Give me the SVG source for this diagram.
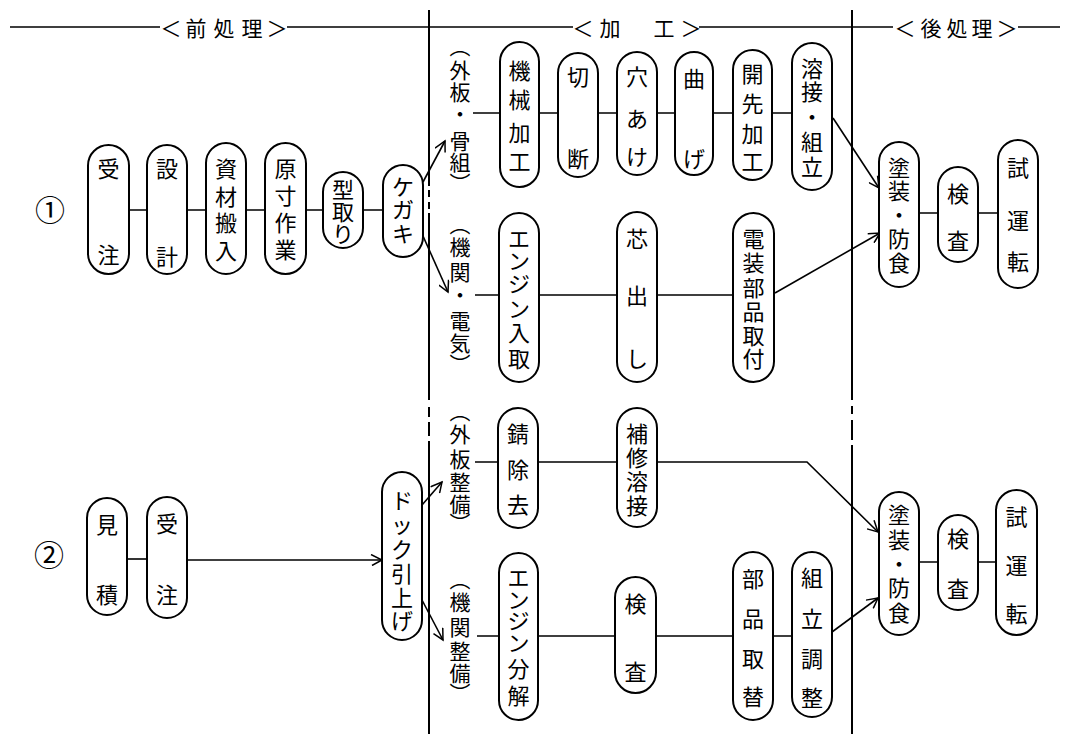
<svg xmlns="http://www.w3.org/2000/svg" width="1071" height="734" viewBox="0 0 1071 734">
<style>
.bg{fill:#fff}
.box{fill:#fff;stroke:#000;stroke-width:2}
.ln{fill:none;stroke:#000;stroke-width:1.6}
.dv{fill:none;stroke:#000;stroke-width:2}
.t{font-family:"Noto Sans CJK JP","Noto Sans CJK SC",sans-serif;font-size:22px;fill:#000;text-anchor:middle;dominant-baseline:central}
.v{font-family:"Noto Sans CJK JP","Noto Sans CJK SC",sans-serif;font-size:21px;fill:#000;writing-mode:vertical-rl;text-anchor:start}
.h{font-family:"Noto Sans CJK JP","Noto Sans CJK SC",sans-serif;font-size:21px;fill:#000;text-anchor:middle;dominant-baseline:central}
.c{font-family:"Noto Sans CJK JP","DejaVu Sans",sans-serif;font-size:30px;fill:#000;text-anchor:middle;dominant-baseline:central}
</style>
<defs>
<marker id="ah" markerWidth="14" markerHeight="12" refX="12" refY="6" orient="auto" markerUnits="userSpaceOnUse">
<path d="M1,0.5 L12,6 L2,11.5" fill="none" stroke="#000" stroke-width="1.5"/>
</marker>
</defs>
<rect class="bg" x="0" y="0" width="1071" height="734"/>

<g id="header">
<path class="ln" d="M10,27H160M287,27H573M699,27H893M1018,27H1060"/>
<text class="h"><tspan x="171" y="27">＜</tspan><tspan x="196" y="27">前</tspan><tspan x="224" y="27">処</tspan><tspan x="252" y="27">理</tspan><tspan x="277" y="27">＞</tspan></text>
<text class="h"><tspan x="583" y="27">＜</tspan><tspan x="610" y="27">加</tspan><tspan x="664" y="27">工</tspan><tspan x="691" y="27">＞</tspan></text>
<text class="h"><tspan x="905" y="27">＜</tspan><tspan x="931" y="27">後</tspan><tspan x="957" y="27">処</tspan><tspan x="982" y="27">理</tspan><tspan x="1007" y="27">＞</tspan></text>
</g>

<g id="dividers">
<path class="dv" d="M429,10V186M429,190V197M429,202V209M429,213V400M429,407V417M429,422V436M429,441V734"/>
<path class="dv" d="M852,10V400M852,406V414M852,420V440M852,445V734"/>
</g>

<g id="connectors">
<path class="ln" d="M129,210H147M187,210H206M246,210H265M306,210H323M363,210H383"/>
<path class="ln" d="M423,182L445,141" marker-end="url(#ah)"/>
<path class="ln" d="M423,236L448,292" marker-end="url(#ah)"/>
<path class="ln" d="M473,113H500M539,113H558M598,113H617M657,113H675M713,113H733M772,113H792"/>
<path class="ln" d="M475,295H499M539,295H617M657,295H733"/>
<path class="ln" d="M833,118L879,188" marker-end="url(#ah)"/>
<path class="ln" d="M775,293L880,233" marker-end="url(#ah)"/>
<path class="ln" d="M919,213H938M978,213H998"/>
<path class="ln" d="M127,559H147"/>
<path class="ln" d="M187,560H382" marker-end="url(#ah)"/>
<path class="ln" d="M422,505L442,482" marker-end="url(#ah)"/>
<path class="ln" d="M422,600L443,640" marker-end="url(#ah)"/>
<path class="ln" d="M475,462H498M538,462H617"/>
<path class="ln" d="M657,462H807L878,532" marker-end="url(#ah)"/>
<path class="ln" d="M477,636H499M538,636H615M656,636H733M773,636H792"/>
<path class="ln" d="M832,632L878,598" marker-end="url(#ah)"/>
<path class="ln" d="M919,562H938M978,562H996"/>
</g>

<g id="mark1"><text class="c" x="50" y="208">①</text></g>
<g id="mark2"><text class="c" x="49" y="553">②</text></g>

<g id="n-juchu1"><rect class="box" x="88" y="145" width="41" height="129" rx="20.5"/><text class="t"><tspan x="108.5" y="167">受</tspan><tspan x="108.5" y="253">注</tspan></text></g>
<g id="n-sekkei"><rect class="box" x="147" y="145" width="40" height="129" rx="20"/><text class="t"><tspan x="167" y="167">設</tspan><tspan x="167" y="255">計</tspan></text></g>
<g id="n-shizai"><rect class="box" x="206" y="143" width="40" height="131" rx="20"/><text class="t"><tspan x="226" y="167">資</tspan><tspan x="226" y="195">材</tspan><tspan x="226" y="221">搬</tspan><tspan x="226" y="249">入</tspan></text></g>
<g id="n-gensun"><rect class="box" x="265" y="143" width="41" height="131" rx="20.5"/><text class="t"><tspan x="285.5" y="167">原</tspan><tspan x="285.5" y="194">寸</tspan><tspan x="285.5" y="221">作</tspan><tspan x="285.5" y="248">業</tspan></text></g>
<g id="n-katadori"><rect class="box" x="323" y="172" width="40" height="76" rx="20"/><text class="t"><tspan x="343" y="188">型</tspan><tspan x="343" y="210">取</tspan><tspan x="343" y="232">り</tspan></text></g>
<g id="n-kegaki"><rect class="box" x="383" y="165" width="40" height="92" rx="20"/><text class="t"><tspan x="403" y="185">ケ</tspan><tspan x="403" y="208">ガ</tspan><tspan x="403" y="232">キ</tspan></text></g>

<g id="l-gaiban-honegumi"><text class="v" x="460"><tspan y="36">（</tspan><tspan y="60">外</tspan><tspan y="82">板</tspan><tspan y="104">・</tspan><tspan y="131">骨</tspan><tspan y="152">組</tspan><tspan y="173">）</tspan></text></g>
<g id="n-kikai"><rect class="box" x="500" y="42" width="39" height="145" rx="19.5"/><text class="t"><tspan x="519.5" y="69">機</tspan><tspan x="519.5" y="98">械</tspan><tspan x="519.5" y="131">加</tspan><tspan x="519.5" y="160">工</tspan></text></g>
<g id="n-setsudan"><rect class="box" x="558" y="53" width="40" height="124" rx="20"/><text class="t"><tspan x="578" y="75">切</tspan><tspan x="578" y="157">断</tspan></text></g>
<g id="n-anaake"><rect class="box" x="617" y="52" width="40" height="123" rx="20"/><text class="t"><tspan x="637" y="75">穴</tspan><tspan x="637" y="117">あ</tspan><tspan x="637" y="155">け</tspan></text></g>
<g id="n-mage"><rect class="box" x="675" y="52" width="38" height="123" rx="19"/><text class="t"><tspan x="694" y="77">曲</tspan><tspan x="694" y="157">げ</tspan></text></g>
<g id="n-kaisaki"><rect class="box" x="733" y="50" width="39" height="130" rx="19.5"/><text class="t"><tspan x="752.5" y="72">開</tspan><tspan x="752.5" y="102">先</tspan><tspan x="752.5" y="132">加</tspan><tspan x="752.5" y="160">工</tspan></text></g>
<g id="n-yousetsu"><rect class="box" x="792" y="43" width="40" height="147" rx="20"/><text class="t"><tspan x="812" y="67">溶</tspan><tspan x="812" y="90">接</tspan><tspan x="812" y="115">・</tspan><tspan x="812" y="140">組</tspan><tspan x="812" y="165">立</tspan></text></g>

<g id="l-kikan-denki"><text class="v" x="460"><tspan y="214">（</tspan><tspan y="237">機</tspan><tspan y="262">関</tspan><tspan y="285">・</tspan><tspan y="311">電</tspan><tspan y="333">気</tspan><tspan y="354">）</tspan></text></g>
<g id="n-engine-iri"><rect class="box" x="499" y="213" width="40" height="169" rx="20"/><text class="t"><tspan x="519" y="237">エ</tspan><tspan x="519" y="259">ン</tspan><tspan x="519" y="282">ジ</tspan><tspan x="519" y="307">ン</tspan><tspan x="519" y="331">入</tspan><tspan x="519" y="357">取</tspan></text></g>
<g id="n-shindashi"><rect class="box" x="617" y="212" width="40" height="170" rx="20"/><text class="t"><tspan x="637" y="237">芯</tspan><tspan x="637" y="294">出</tspan><tspan x="637" y="357">し</tspan></text></g>
<g id="n-densou"><rect class="box" x="733" y="213" width="41" height="169" rx="20.5"/><text class="t"><tspan x="753.5" y="237">電</tspan><tspan x="753.5" y="261">装</tspan><tspan x="753.5" y="286">部</tspan><tspan x="753.5" y="310">品</tspan><tspan x="753.5" y="334">取</tspan><tspan x="753.5" y="357">付</tspan></text></g>

<g id="n-tosou1"><rect class="box" x="879" y="142" width="40" height="145" rx="20"/><text class="t"><tspan x="899" y="166">塗</tspan><tspan x="899" y="189">装</tspan><tspan x="899" y="213">・</tspan><tspan x="899" y="237">防</tspan><tspan x="899" y="261">食</tspan></text></g>
<g id="n-kensa1"><rect class="box" x="938" y="167" width="40" height="95" rx="20"/><text class="t"><tspan x="958" y="192">検</tspan><tspan x="958" y="239">査</tspan></text></g>
<g id="n-shiunten1"><rect class="box" x="998" y="140" width="40" height="148" rx="20"/><text class="t"><tspan x="1018" y="166">試</tspan><tspan x="1018" y="219">運</tspan><tspan x="1018" y="260">転</tspan></text></g>

<g id="n-mitsumori"><rect class="box" x="87" y="498" width="40" height="117" rx="20"/><text class="t"><tspan x="107" y="523">見</tspan><tspan x="107" y="593">積</tspan></text></g>
<g id="n-juchu2"><rect class="box" x="147" y="497" width="40" height="121" rx="20"/><text class="t"><tspan x="167" y="522">受</tspan><tspan x="167" y="593">注</tspan></text></g>
<g id="n-dock"><rect class="box" x="382" y="472" width="40" height="168" rx="20"/><text class="t"><tspan x="402" y="499">ド</tspan><tspan x="402" y="523">ッ</tspan><tspan x="402" y="548">ク</tspan><tspan x="402" y="572">引</tspan><tspan x="402" y="596">上</tspan><tspan x="402" y="619">げ</tspan></text></g>

<g id="l-gaiban-seibi"><text class="v" x="460"><tspan y="401">（</tspan><tspan y="424">外</tspan><tspan y="449">板</tspan><tspan y="472">整</tspan><tspan y="494">備</tspan><tspan y="513">）</tspan></text></g>
<g id="n-sabi"><rect class="box" x="498" y="408" width="40" height="120" rx="20"/><text class="t"><tspan x="518" y="432">錆</tspan><tspan x="518" y="468">除</tspan><tspan x="518" y="503">去</tspan></text></g>
<g id="n-hoshu"><rect class="box" x="617" y="408" width="40" height="119" rx="20"/><text class="t"><tspan x="637" y="432">補</tspan><tspan x="637" y="456">修</tspan><tspan x="637" y="480">溶</tspan><tspan x="637" y="504">接</tspan></text></g>

<g id="l-kikan-seibi"><text class="v" x="460"><tspan y="569">（</tspan><tspan y="592">機</tspan><tspan y="617">関</tspan><tspan y="641">整</tspan><tspan y="663">備</tspan><tspan y="683">）</tspan></text></g>
<g id="n-engine-bunkai"><rect class="box" x="499" y="553" width="39" height="167" rx="19.5"/><text class="t"><tspan x="518.5" y="576">エ</tspan><tspan x="518.5" y="598">ン</tspan><tspan x="518.5" y="619">ジ</tspan><tspan x="518.5" y="641">ン</tspan><tspan x="518.5" y="667">分</tspan><tspan x="518.5" y="694">解</tspan></text></g>
<g id="n-kensa-mid"><rect class="box" x="615" y="577" width="41" height="116" rx="20.5"/><text class="t"><tspan x="635.5" y="602">検</tspan><tspan x="635.5" y="670">査</tspan></text></g>
<g id="n-buhin"><rect class="box" x="733" y="552" width="40" height="168" rx="20"/><text class="t"><tspan x="753" y="577">部</tspan><tspan x="753" y="617">品</tspan><tspan x="753" y="657">取</tspan><tspan x="753" y="695">替</tspan></text></g>
<g id="n-kumitate"><rect class="box" x="792" y="552" width="40" height="165" rx="20"/><text class="t"><tspan x="812" y="576">組</tspan><tspan x="812" y="617">立</tspan><tspan x="812" y="657">調</tspan><tspan x="812" y="696">整</tspan></text></g>

<g id="n-tosou2"><rect class="box" x="879" y="492" width="40" height="143" rx="20"/><text class="t"><tspan x="899" y="513">塗</tspan><tspan x="899" y="538">装</tspan><tspan x="899" y="562">・</tspan><tspan x="899" y="586">防</tspan><tspan x="899" y="611">食</tspan></text></g>
<g id="n-kensa2"><rect class="box" x="938" y="515" width="40" height="95" rx="20"/><text class="t"><tspan x="958" y="537">検</tspan><tspan x="958" y="587">査</tspan></text></g>
<g id="n-shiunten2"><rect class="box" x="996" y="490" width="41" height="145" rx="20.5"/><text class="t"><tspan x="1016.5" y="515">試</tspan><tspan x="1016.5" y="564">運</tspan><tspan x="1016.5" y="612">転</tspan></text></g>
</svg>
